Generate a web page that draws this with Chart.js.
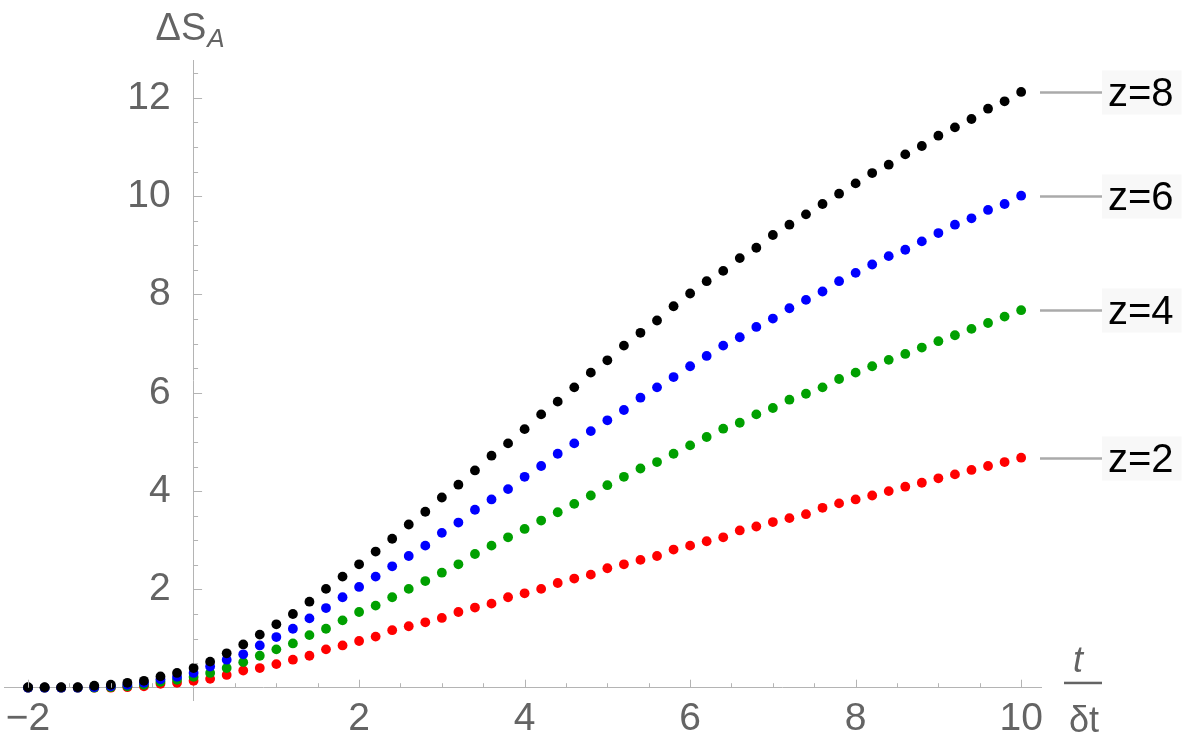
<!DOCTYPE html>
<html><head><meta charset="utf-8">
<script src="https://cdn.jsdelivr.net/npm/chart.js@4/dist/chart.umd.min.js"></script>
<style>html,body{margin:0;padding:0;background:#fff}#wrap{width:1200px;height:744px}</style>
</head><body><div id="wrap"><canvas id="c" width="1200" height="744"></canvas></div>
<script>
const tValues = [-2,-1.8,-1.6,-1.4,-1.2,-1,-0.8,-0.6,-0.4,-0.2,
  0,0.2,0.4,0.6,0.8,1,1.2,1.4,1.6,1.8,
  2,2.2,2.4,2.6,2.8,3,3.2,3.4,3.6,3.8,
  4,4.2,4.4,4.6,4.8,5,5.2,5.4,5.6,5.8,
  6,6.2,6.4,6.6,6.8,7,7.2,7.4,7.6,7.8,
  8,8.2,8.4,8.6,8.8,9,9.2,9.4,9.6,9.8,10];
const z8 = [0.01,0.01,0.01,0.01,0.04,0.06,0.10,0.14,0.23,0.30,
  0.40,0.53,0.70,0.88,1.08,1.29,1.50,1.75,2.01,2.26,
  2.51,2.77,3.03,3.32,3.58,3.87,4.13,4.42,4.72,4.97,
  5.26,5.56,5.82,6.11,6.41,6.66,6.96,7.22,7.47,7.76,
  8.02,8.27,8.48,8.74,8.95,9.21,9.42,9.63,9.84,10.05,
  10.26,10.47,10.64,10.85,11.02,11.23,11.40,11.57,11.78,11.93,12.12];
const z6 = [0,0,0,0,0.01,0.03,0.06,0.10,0.17,0.22,
  0.30,0.43,0.57,0.68,0.86,1.03,1.20,1.41,1.62,1.84,
  2.05,2.26,2.47,2.68,2.89,3.15,3.36,3.62,3.83,4.04,
  4.29,4.51,4.76,4.97,5.22,5.44,5.65,5.90,6.11,6.32,
  6.54,6.75,6.96,7.13,7.34,7.51,7.72,7.89,8.06,8.27,
  8.44,8.61,8.78,8.91,9.08,9.25,9.42,9.55,9.72,9.84,10.01];
const z4 = [0,0,0,0,0,0.01,0.03,0.06,0.12,0.16,
  0.22,0.30,0.40,0.52,0.65,0.78,0.90,1.07,1.20,1.37,
  1.54,1.67,1.84,2.01,2.17,2.34,2.51,2.72,2.89,3.06,
  3.23,3.40,3.57,3.74,3.91,4.12,4.29,4.46,4.59,4.76,
  4.93,5.10,5.27,5.39,5.56,5.69,5.86,5.98,6.11,6.28,
  6.41,6.54,6.67,6.79,6.92,7.05,7.17,7.30,7.42,7.55,7.68];
const z2 = [0,0,0,0,0,0,0.01,0.03,0.08,0.10,
  0.14,0.18,0.26,0.35,0.40,0.48,0.57,0.65,0.78,0.86,
  0.95,1.04,1.17,1.25,1.33,1.42,1.54,1.63,1.71,1.84,
  1.92,2.01,2.13,2.22,2.30,2.43,2.51,2.60,2.68,2.81,
  2.89,2.98,3.06,3.20,3.28,3.37,3.45,3.53,3.66,3.75,
  3.83,3.91,4.00,4.09,4.17,4.26,4.34,4.43,4.51,4.59,4.68];
const seriesNames = ['z=8','z=6','z=4','z=2'];
const seriesColors = ['#000000','#0000ff','#00a000','#ff0000'];
const xTickLabels = [-2,2,4,6,8,10];
const yTickLabels = [2,4,6,8,10,12];

const FONT = "'Liberation Sans', Arial, sans-serif";
const AXIS_COLOR = '#b4b4b4';
const LABEL_COLOR = '#646464';
const Y_LABEL_GAP = 23;

const seriesValues = [z8, z6, z4, z2];
const datasets = seriesValues.map((vals, i) => ({
  label: seriesNames[i],
  data: tValues.map((t, k) => ({x: t, y: vals[k]})),
  backgroundColor: seriesColors[i],
  borderColor: seriesColors[i],
  pointRadius: 4.9,
  pointBorderWidth: 0,
  showLine: false
}));

const shiftYLabels = {
  id: 'shiftYLabels',
  beforeDraw(chart) {
    const ys = chart.scales.y;
    const items = ys.getLabelItems(chart.chartArea);
    if (!items._shifted) {
      items.forEach(it => { it.options.translation[0] -= Y_LABEL_GAP; });
      items._shifted = true;
    }
  }
};

const decor = {
  id: 'decor',
  afterDraw(chart) {
    const ctx = chart.ctx;
    const xs = chart.scales.x, ys = chart.scales.y;
    const x0 = xs.getPixelForValue(0), y0 = ys.getPixelForValue(0);
    ctx.save();
    // tick marks
    ctx.strokeStyle = AXIS_COLOR;
    ctx.lineWidth = 1;
    const step = 0.5;
    for (let v = Math.ceil(xs.min / step) * step; v <= xs.max; v += step) {
      if (Math.abs(v) < 1e-9) continue;
      const len = Math.abs(v % 2) < 1e-9 ? 8 : 4.5;
      const px = Math.round(xs.getPixelForValue(v)) + 0.5;
      ctx.beginPath(); ctx.moveTo(px, y0); ctx.lineTo(px, y0 - len); ctx.stroke();
    }
    for (let v = Math.ceil(ys.min / step) * step; v <= ys.max; v += step) {
      if (Math.abs(v) < 1e-9) continue;
      const len = Math.abs(v % 2) < 1e-9 ? 8.5 : 4.5;
      const py = Math.round(ys.getPixelForValue(v)) + 0.5;
      ctx.beginPath(); ctx.moveTo(x0, py); ctx.lineTo(x0 + len, py); ctx.stroke();
    }
    // y axis title: ΔS_A
    ctx.fillStyle = LABEL_COLOR;
    ctx.textBaseline = 'alphabetic';
    ctx.textAlign = 'left';
    ctx.font = '38px ' + FONT;
    const tx = x0 - 38, ty = chart.chartArea.top - 20;
    ctx.fillText('ΔS', tx, ty);
    const w = ctx.measureText('ΔS').width;
    ctx.font = 'italic 26px ' + FONT;
    ctx.fillText('A', tx + w + 1, ty + 7);
    // x axis title: t / δt
    const fx = chart.chartArea.right + 42;
    ctx.textAlign = 'center';
    ctx.font = 'italic 36px ' + FONT;
    ctx.fillText('t', fx - 5, y0 - 16);
    ctx.fillRect(fx - 19, y0 - 6, 38, 2.5);
    ctx.font = '36px ' + FONT;
    ctx.fillText('δt', fx + 1, y0 + 44);
    // series labels
    chart.data.datasets.forEach((ds, i) => {
      const meta = chart.getDatasetMeta(i);
      const last = meta.data[meta.data.length - 1];
      const ly = Math.round(last.y) + 0.5;
      const lx = chart.chartArea.right - 1;
      ctx.strokeStyle = '#aaaaaa';
      ctx.lineWidth = 2.5;
      ctx.beginPath(); ctx.moveTo(lx, ly); ctx.lineTo(lx + 62, ly); ctx.stroke();
      ctx.font = '40px ' + FONT;
      ctx.textAlign = 'left';
      ctx.textBaseline = 'middle';
      const tw = ctx.measureText(ds.label).width;
      ctx.fillStyle = '#f8f8f8';
      ctx.fillRect(lx + 62, ly - 22, tw + 14, 44);
      ctx.fillStyle = '#000000';
      ctx.fillText(ds.label, lx + 68, ly + 2);
    });
    ctx.restore();
  }
};

new Chart(document.getElementById('c'), {
  type: 'scatter',
  data: { datasets },
  plugins: [shiftYLabels, decor],
  options: {
    responsive: false,
    animation: false,
    events: [],
    layout: { padding: { left: 2, right: 159, top: 60, bottom: 44 } },
    plugins: { legend: { display: false }, tooltip: { enabled: false } },
    scales: {
      x: {
        type: 'linear',
        min: -2.28, max: 10.24,
        position: { y: 0 },
        afterBuildTicks: s => { s.ticks = xTickLabels.map(v => ({ value: v })); },
        afterFit: s => { s.paddingLeft = 0; s.paddingRight = 0; },
        grid: { display: false, drawTicks: false },
        border: { display: true, color: AXIS_COLOR, width: 1 },
        ticks: {
          autoSkip: false, maxRotation: 0, padding: 8,
          color: LABEL_COLOR, font: { family: FONT, size: 39 },
          callback: v => (v < 0 ? '\u2212' + Math.abs(v) : String(v))
        }
      },
      y: {
        type: 'linear',
        min: -0.25, max: 12.77,
        position: { x: 0 },
        afterBuildTicks: s => { s.ticks = yTickLabels.map(v => ({ value: v })); },
        afterFit: s => { s.paddingTop = 0; s.paddingBottom = 0; },
        grid: { display: false, drawTicks: false },
        border: { display: true, color: AXIS_COLOR, width: 1 },
        ticks: {
          autoSkip: false, padding: 0,
          color: LABEL_COLOR, font: { family: FONT, size: 39 },
          callback: v => String(v)
        }
      }
    }
  }
});
</script></body></html>
